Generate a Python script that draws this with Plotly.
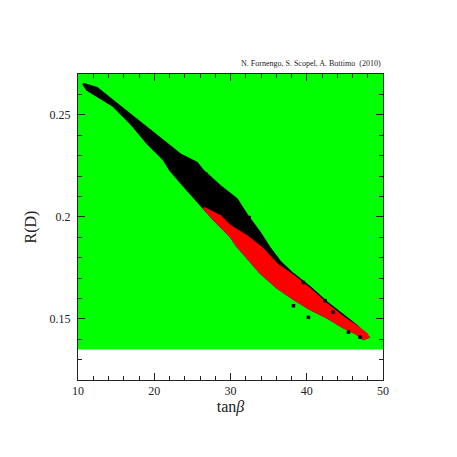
import plotly.graph_objects as go

# Outline of the whole scatter band (black points)
band_upper_x = [10.66, 12.49, 14.67, 16.85, 19.04, 21.22, 23.41, 25.60, 26.46, 28.65, 30.84, 32.15, 33.89, 35.20, 36.51, 38.26, 40.45, 42.63, 44.81, 46.57, 47.88]
band_upper_y = [0.2653, 0.2632, 0.2566, 0.2501, 0.2436, 0.2371, 0.2306, 0.2265, 0.2224, 0.2151, 0.2086, 0.2010, 0.1922, 0.1845, 0.1780, 0.1719, 0.1654, 0.1581, 0.1515, 0.1466, 0.1417]
band_lower_x = [10.66, 11.18, 12.49, 14.67, 16.85, 19.04, 21.22, 22.10, 24.29, 26.46, 27.77, 29.96, 30.84, 33.89, 36.08, 38.26, 40.45, 42.63, 44.81, 46.57, 47.43, 48.09]
band_lower_y = [0.2653, 0.2623, 0.2591, 0.2542, 0.2460, 0.2363, 0.2281, 0.2228, 0.2134, 0.2045, 0.1988, 0.1906, 0.1857, 0.1727, 0.1654, 0.1597, 0.1548, 0.1507, 0.1458, 0.1426, 0.1401, 0.1410]

# Outline of the red sub-region
red_upper_x = [26.46, 28.65, 29.96, 32.15, 34.29, 36.08, 38.26, 40.45, 42.63, 44.81, 46.57, 47.88, 48.09]
red_upper_y = [0.2045, 0.2003, 0.1955, 0.1906, 0.1841, 0.1768, 0.1711, 0.1646, 0.1572, 0.1507, 0.1463, 0.1426, 0.1410]
red_lower_x = [26.46, 27.77, 29.96, 30.84, 33.89, 36.08, 38.26, 40.45, 42.63, 44.81, 46.57, 47.43, 48.09]
red_lower_y = [0.2045, 0.1988, 0.1906, 0.1857, 0.1727, 0.1654, 0.1597, 0.1548, 0.1507, 0.1458, 0.1426, 0.1401, 0.1410]

# Isolated black points
out_x = [26.81, 27.25, 27.56, 28.30, 29.08, 30.39, 31.27, 32.45, 39.57, 42.41, 38.26, 40.22, 45.47, 43.46, 47.0]
out_y = [0.2208, 0.2190, 0.2175, 0.2140, 0.2118, 0.2077, 0.2037, 0.1996, 0.1678, 0.1589, 0.1564, 0.1507, 0.1434, 0.1533, 0.1410]

x_ticks = [10, 20, 30, 40, 50]
y_ticks = [0.15, 0.2, 0.25]
y_tick_text = ["0.15", "0.2", "0.25"]
green_min = 0.135

FONT = "Liberation Serif"

fig = go.Figure()

fig.add_trace(go.Scatter(
    x=band_upper_x + band_lower_x[::-1],
    y=band_upper_y + band_lower_y[::-1],
    mode="lines", fill="toself", fillcolor="black",
    line=dict(color="black", width=2), hoverinfo="skip", showlegend=False))

fig.add_trace(go.Scatter(
    x=red_upper_x + red_lower_x[::-1],
    y=red_upper_y + red_lower_y[::-1],
    mode="lines", fill="toself", fillcolor="#ff0000",
    line=dict(color="#ff0000", width=2), hoverinfo="skip", showlegend=False))

fig.add_trace(go.Scatter(
    x=out_x, y=out_y, mode="markers",
    marker=dict(color="black", size=3.5, symbol="square"),
    hoverinfo="skip", showlegend=False))

fig.add_shape(type="rect", xref="x", yref="y", x0=10, x1=50, y0=green_min, y1=0.27,
              fillcolor="#00ff00", line=dict(width=0), layer="below")

axis_common = dict(
    showgrid=False, zeroline=False, showline=True, linecolor="#222", linewidth=1,
    mirror="allticks", ticks="inside", ticklen=7, tickcolor="#222", tickwidth=1,
    tickfont=dict(family=FONT, size=12, color="#222"), automargin=False,
)

fig.update_xaxes(range=[10, 50], tickvals=x_ticks,
                 minor=dict(dtick=2, ticks="inside", ticklen=4, tickcolor="#222"),
                 title=dict(text="tan<i>β</i>", font=dict(family=FONT, size=16, color="#222"), standoff=2),
                 **axis_common)
fig.update_yaxes(range=[0.12, 0.27], tickvals=y_ticks, ticktext=y_tick_text,
                 minor=dict(dtick=0.01, ticks="inside", ticklen=4, tickcolor="#222"),
                 title=dict(text="R(D)", font=dict(family=FONT, size=16, color="#222"), standoff=8),
                 ticklabelstandoff=4,
                 **axis_common)

fig.add_annotation(text="N. Fornengo, S. Scopel, A. Bottimo  (2010)",
                   xref="paper", yref="paper", x=1.0, y=1.0, yshift=4,
                   xanchor="right", yanchor="bottom", showarrow=False,
                   font=dict(family=FONT, size=8, color="#222"))

# page body adds an 8px margin, so the figure is slightly smaller and shifted
fig.update_layout(width=449, height=449,
                  margin=dict(l=70, r=74, t=66, b=77),
                  plot_bgcolor="white", paper_bgcolor="white")

fig.write_html("out.html")
